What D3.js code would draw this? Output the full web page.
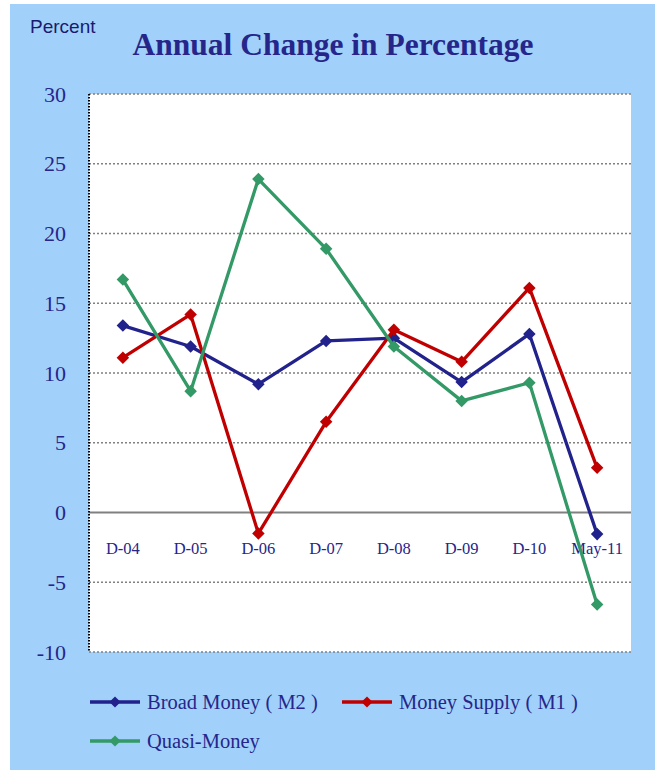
<!DOCTYPE html>
<html><head><meta charset="utf-8">
<script src="https://cdn.jsdelivr.net/npm/d3@7"></script>
<style>body{margin:0;background:#fff}</style>
</head><body>
<svg id="c" width="665" height="772"></svg>
<script>
const categories = ["D-04","D-05","D-06","D-07","D-08","D-09","D-10","May-11"];
const broadMoney = [13.4, 11.9, 9.2, 12.3, 12.5, 9.35, 12.8, -1.55];
const moneySupply = [11.1, 14.2, -1.5, 6.5, 13.1, 10.8, 16.1, 3.2];
const quasiMoney = [16.7, 8.7, 23.9, 18.9, 11.9, 8.0, 9.3, -6.6];
const yTicks = [30, 25, 20, 15, 10, 5, 0, -5, -10];
const seriesNames = ["Broad Money ( M2 )", "Money Supply ( M1 )", "Quasi-Money"];
const seriesColors = ["#22228c", "#c00000", "#339966"];

const svg = d3.select("#c");
const navy = "#26268a";
const serif = "'Liberation Serif','Times New Roman',serif";

svg.append("rect").attr("x",10).attr("y",4).attr("width",645).attr("height",766).attr("fill","#a1d1fb");

const L=89, R=631, T=94, B=652;
const x = d3.scaleBand().domain(categories).range([L,R]);
const y = d3.scaleLinear().domain([-10,30]).range([B,T]);

svg.append("rect").attr("x",L).attr("y",T).attr("width",R-L).attr("height",B-T).attr("fill","#fff");

// grid
svg.append("g").selectAll("line").data(yTicks.filter(d=>d!==0)).join("line")
  .attr("x1",L).attr("x2",R).attr("y1",d=>y(d)).attr("y2",d=>y(d))
  .attr("stroke","#808080").attr("stroke-width",1.3).attr("stroke-dasharray","2,2");
// zero line
svg.append("line").attr("x1",L).attr("x2",R).attr("y1",y(0)).attr("y2",y(0))
  .attr("stroke","#808080").attr("stroke-width",2);
// left axis dotted
svg.append("line").attr("x1",L).attr("x2",L).attr("y1",T).attr("y2",B)
  .attr("stroke","#000").attr("stroke-width",2).attr("stroke-dasharray","1.5,1.5");

// y tick labels
svg.append("g").selectAll("text").data(yTicks).join("text")
  .attr("x",66).attr("y",d=>y(d)).attr("dy","0.35em").attr("text-anchor","end")
  .attr("font-family",serif).attr("font-size",22).attr("fill",navy).text(d=>d);

// x labels
svg.append("g").selectAll("text").data(categories).join("text")
  .attr("x",d=>x(d)+x.bandwidth()/2).attr("y",548).attr("dy","0.35em").attr("text-anchor","middle")
  .attr("font-family",serif).attr("font-size",16.5).attr("fill",navy).text(d=>d);

const seriesData = [broadMoney, moneySupply, quasiMoney];
const line = d3.line().x((d,i)=>x(categories[i])+x.bandwidth()/2).y(d=>y(d));
const diamond = d3.symbol().type(d3.symbolDiamond2).size(100);

seriesData.forEach((vals,k)=>{
  const g = svg.append("g");
  g.append("path").datum(vals).attr("d",line).attr("fill","none")
    .attr("stroke",seriesColors[k]).attr("stroke-width",3.3).attr("stroke-linejoin","round");
  g.selectAll("path.m").data(vals).join("path").attr("class","m")
    .attr("d",diamond).attr("transform",(d,i)=>`translate(${x(categories[i])+x.bandwidth()/2},${y(d)})`)
    .attr("fill",seriesColors[k]);
});

// title
svg.append("text").attr("x",30).attr("y",33).attr("font-family","'Liberation Sans',Arial,sans-serif")
  .attr("font-size",19).attr("fill","#1a1a70").text("Percent");
svg.append("text").attr("x",333).attr("y",55).attr("text-anchor","middle").attr("font-family",serif)
  .attr("font-weight","bold").attr("font-size",31.5).attr("fill",navy).text("Annual Change in Percentage");

// legend
const legPos = [{x:90,y:702},{x:342,y:702},{x:90,y:741}];
const diamondL = d3.symbol().type(d3.symbolDiamond2).size(80);
seriesNames.forEach((n,k)=>{
  const p = legPos[k];
  const g = svg.append("g");
  g.append("line").attr("x1",p.x).attr("x2",p.x+50).attr("y1",p.y).attr("y2",p.y)
    .attr("stroke",seriesColors[k]).attr("stroke-width",3.3);
  g.append("path").attr("d",diamondL).attr("transform",`translate(${p.x+25},${p.y})`).attr("fill",seriesColors[k]);
  g.append("text").attr("x",p.x+57).attr("y",p.y).attr("dy","0.35em").attr("font-family",serif)
    .attr("font-size",20.5).attr("fill",navy).attr("xml:space","preserve").text(n);
});
</script>
</body></html>
